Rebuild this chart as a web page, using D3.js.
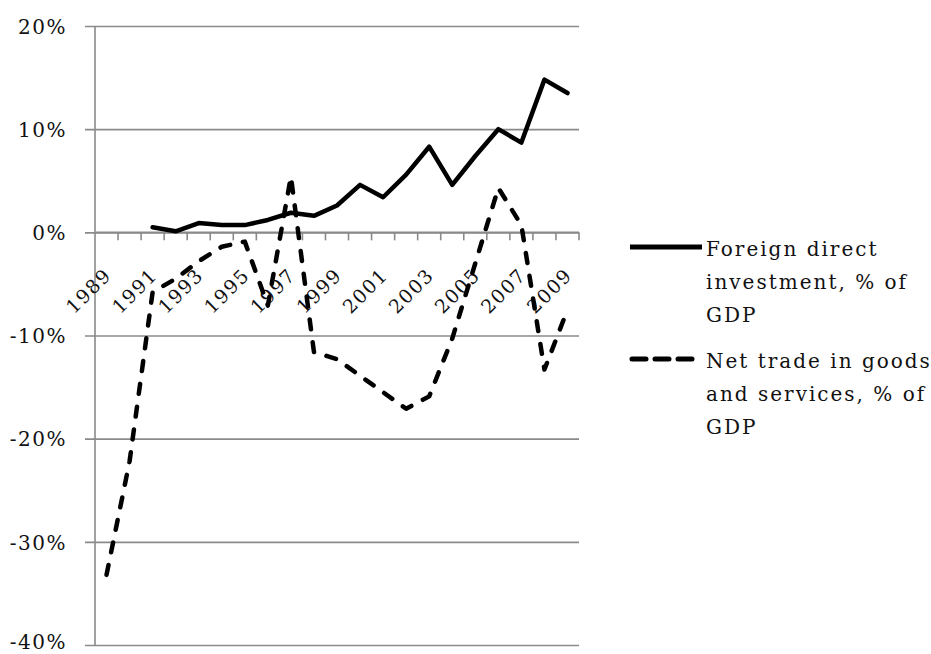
<!DOCTYPE html>
<html>
<head>
<meta charset="utf-8">
<script src="https://cdn.jsdelivr.net/npm/d3@7"></script>
<style>
  html, body { margin: 0; padding: 0; background: #ffffff; }
  svg { display: block; }
  text { font-family: "DejaVu Serif", "Liberation Serif", serif; fill: #111; }
</style>
</head>
<body>
<svg id="chart" width="931" height="654"></svg>
<script>
// Years shown on the category axis
const years = ["1989","1990","1991","1992","1993","1994","1995","1996","1997","1998","1999",
               "2000","2001","2002","2003","2004","2005","2006","2007","2008","2009"];
// Labelled years (every other one)
const yearLabels = ["1989","1991","1993","1995","1997","1999","2001","2003","2005","2007","2009"];

// Foreign direct investment, % of GDP (no data for 1989-1990)
const fdi = [null, null, 0.5, 0.1, 0.9, 0.7, 0.7, 1.2, 1.9, 1.6, 2.6,
             4.6, 3.4, 5.6, 8.3, 4.6, 7.4, 10.0, 8.7, 14.8, 13.5];
// Net trade in goods and services, % of GDP
const netTrade = [-33.2, -22.2, -5.8, -4.5, -2.8, -1.4, -0.9, -7.1, 5.4, -11.6, -12.3,
                  -13.9, -15.5, -17.1, -15.9, -10.3, -3.0, 4.3, 0.7, -13.3, -7.5];

// Value axis ticks
const yTicks = [20, 10, 0, -10, -20, -30, -40];

const legendItems = [
  { lines: ["Foreign direct", "investment, % of", "GDP"], dashed: false },
  { lines: ["Net trade in goods", "and services, % of", "GDP"], dashed: true }
];

const svg = d3.select("#chart");

const plot = { left: 95, right: 579, top: 26, bottom: 645 };

const x = d3.scaleBand().domain(years).range([plot.left, plot.right]).padding(0);
const y = d3.scaleLinear().domain([-40, 20]).range([plot.bottom, plot.top]);

// Horizontal gridlines with short ticks left of the value axis
const yAxis = d3.axisLeft(y)
  .tickValues(yTicks)
  .tickSize(-(plot.right - plot.left))
  .tickFormat(d => (d < 0 ? "-" + Math.abs(d) : d) + "%")
  .tickPadding(28);

const yG = svg.append("g")
  .attr("transform", `translate(${plot.left},0)`)
  .call(yAxis);
yG.select(".domain").remove();
yG.selectAll(".tick line")
  .attr("x1", -10)
  .attr("stroke", "#8a8a8a")
  .attr("stroke-width", 1.6);
// the bottom label sits a little higher so it stays inside the page
yG.selectAll(".tick text")
  .attr("font-size", 20)
  .attr("letter-spacing", 1.5)
  .attr("dy", d => d === -40 ? "0.18em" : "0.36em")
  .attr("fill", "#111");

// Vertical value axis line
svg.append("line")
  .attr("x1", plot.left).attr("x2", plot.left)
  .attr("y1", y(20)).attr("y2", y(-40))
  .attr("stroke", "#8a8a8a").attr("stroke-width", 1.6);

// Category axis along the 0% line
const y0 = y(0);
const xAxisG = svg.append("g").attr("transform", `translate(0,${y0})`);
xAxisG.append("line")
  .attr("x1", plot.left).attr("x2", plot.right)
  .attr("stroke", "#8a8a8a").attr("stroke-width", 1.6);

const boundaries = years.map(d => x(d)).concat([x(years[years.length - 1]) + x.bandwidth()]);
xAxisG.selectAll("line.tick")
  .data(boundaries.slice(1))
  .join("line")
  .attr("class", "tick")
  .attr("x1", d => d).attr("x2", d => d)
  .attr("y1", 0).attr("y2", 8)
  .attr("stroke", "#8a8a8a").attr("stroke-width", 1.6);

xAxisG.selectAll("text.year")
  .data(yearLabels)
  .join("text")
  .attr("class", "year")
  .attr("font-size", 19)
  .attr("letter-spacing", 1.5)
  .attr("text-anchor", "end")
  .attr("transform", d => `translate(${x(d) + x.bandwidth() / 2 + 6},${44}) rotate(-45)`)
  .text(d => d);

// Series lines
const lineGen = d3.line()
  .defined(d => d.v !== null)
  .x(d => x(d.year) + x.bandwidth() / 2)
  .y(d => y(d.v));

const netData = years.map((yr, i) => ({ year: yr, v: netTrade[i] }));
const fdiData = years.map((yr, i) => ({ year: yr, v: fdi[i] }));

svg.append("path")
  .datum(netData)
  .attr("d", lineGen)
  .attr("fill", "none")
  .attr("stroke", "#000")
  .attr("stroke-width", 4.5)
  .attr("stroke-linecap", "round")
  .attr("stroke-linejoin", "round")
  .attr("stroke-dasharray", "10,13");

svg.append("path")
  .datum(fdiData)
  .attr("d", lineGen)
  .attr("fill", "none")
  .attr("stroke", "#000")
  .attr("stroke-width", 4.5)
  .attr("stroke-linecap", "round")
  .attr("stroke-linejoin", "round");

// Legend
const legend = svg.append("g");
const legendTop = [247, 359];
const lineH = 33;
legendItems.forEach((item, i) => {
  const g = legend.append("g").attr("transform", `translate(0,${legendTop[i]})`);
  g.append("line")
    .attr("x1", item.dashed ? 632 : 630)
    .attr("x2", item.dashed ? 695 : 702)
    .attr("y1", 0).attr("y2", 0)
    .attr("stroke", "#000")
    .attr("stroke-width", 5)
    .attr("stroke-linecap", item.dashed ? "round" : "butt")
    .attr("stroke-dasharray", item.dashed ? "14,9" : null);
  item.lines.forEach((t, j) => {
    g.append("text")
      .attr("x", 706)
      .attr("y", 9 + j * lineH)
      .attr("font-size", 20)
      .attr("letter-spacing", 2)
      .text(t);
  });
});
</script>
</body>
</html>
